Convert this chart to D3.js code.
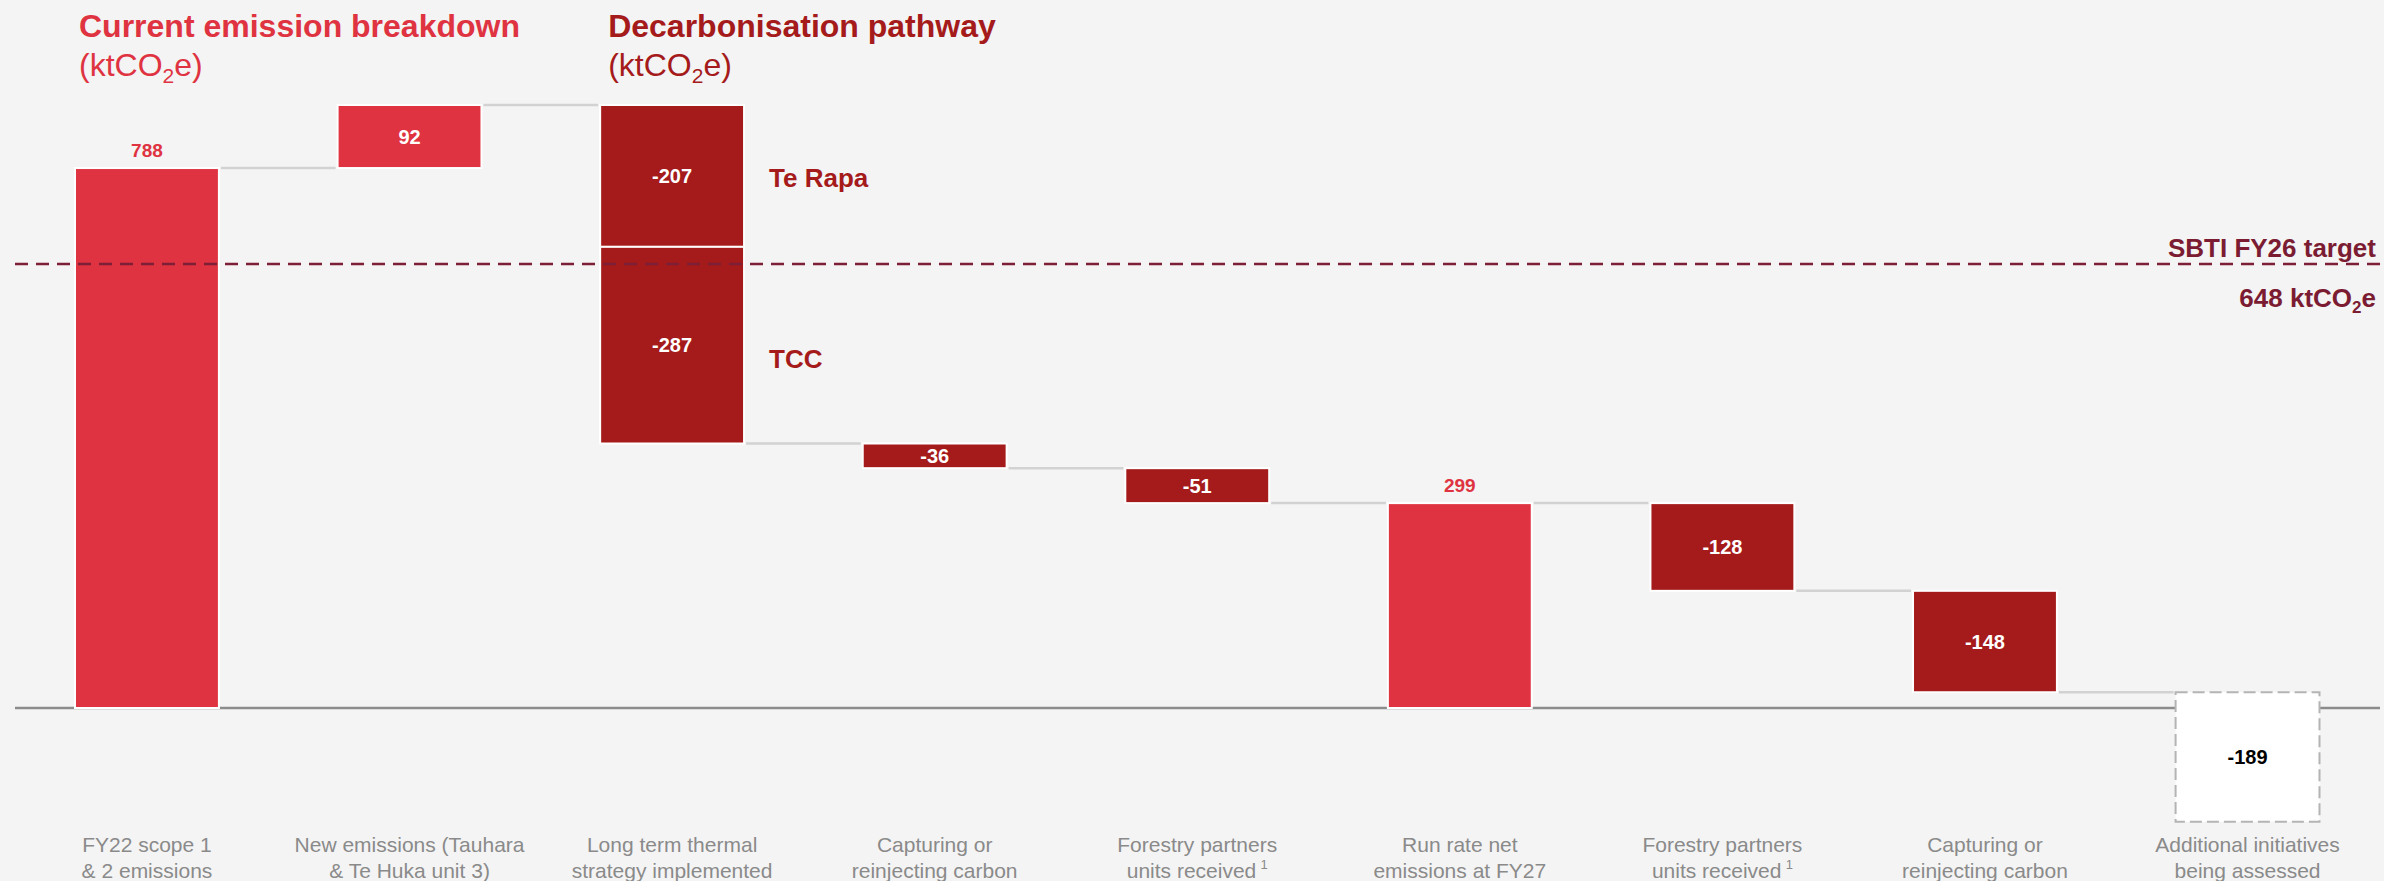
<!DOCTYPE html>
<html>
<head>
<meta charset="utf-8">
<script src="https://cdn.jsdelivr.net/npm/d3@7"></script>
<style>
  html, body { margin: 0; padding: 0; background: #f4f4f4; }
  svg { display: block; font-family: "Liberation Sans", Arial, sans-serif; }
</style>
</head>
<body>
<svg id="chart" width="2384" height="881"></svg>
<script>
// Waterfall steps (one column each)
const stepLabels = [
  ["FY22 scope 1", "& 2 emissions"],
  ["New emissions (Tauhara", "& Te Huka unit 3)"],
  ["Long term thermal", "strategy implemented"],
  ["Capturing or", "reinjecting carbon"],
  ["Forestry partners", "units received"],
  ["Run rate net", "emissions at FY27"],
  ["Forestry partners", "units received"],
  ["Capturing or", "reinjecting carbon"],
  ["Additional initiatives", "being assessed"]
];
const stepFootnotes = ["", "", "", "", "1", "", "1", "", ""];

// Segments (the thermal strategy column is split into two stacked pieces)
const segmentStep   = [0, 1, 2, 2, 3, 4, 5, 6, 7, 8];
const segmentValues = [788, 92, -207, -287, -36, -51, 299, -128, -148, -189];
const segmentKinds  = ["total", "increase", "decrease", "decrease", "decrease",
                       "decrease", "total", "decrease", "decrease", "pending"];
const segmentNames  = ["", "", "Te Rapa", "TCC", "", "", "", "", "", ""];

const targetValue = 648;
const targetLabel = "SBTI FY26 target";

const colors = {
  total: "#df3341",
  increase: "#df3341",
  decrease: "#a51a1a",
  pending: "#ffffff",
  target: "#7b1c33",
  connector: "#d2d2d2",
  axis: "#8c8c8c",
  category: "#8a8a8a"
};

const svg = d3.select("#chart");

// Scales
const x = d3.scaleBand()
  .domain(d3.range(stepLabels.length))
  .range([22.5, 2372])
  .paddingInner(0.452)
  .paddingOuter(0.2);

const y = d3.scaleLinear()
  .domain([0, 880])
  .range([708, 105]);

// Running totals for each segment
let running = 0;
const segments = segmentValues.map((v, i) => {
  let start, end;
  if (segmentKinds[i] === "total") { start = 0; end = v; }
  else { start = running; end = running + v; }
  running = end;
  return {
    i, step: segmentStep[i], value: v, kind: segmentKinds[i], name: segmentNames[i],
    start, end, lo: Math.min(start, end), hi: Math.max(start, end)
  };
});

// Connectors between consecutive columns at the running level
const connectors = [];
for (let i = 0; i < segments.length - 1; i++) {
  const a = segments[i], b = segments[i + 1];
  if (a.step === b.step) continue;
  connectors.push({ from: a.step, to: b.step, level: a.end });
}
svg.append("g")
  .selectAll("line")
  .data(connectors)
  .join("line")
  .attr("x1", d => x(d.from) + x.bandwidth() + 2)
  .attr("x2", d => x(d.to) - 2)
  .attr("y1", d => y(d.level))
  .attr("y2", d => y(d.level))
  .attr("stroke", colors.connector)
  .attr("stroke-width", 2.5);

// Zero baseline
svg.append("line")
  .attr("x1", 15).attr("x2", 2380)
  .attr("y1", y(0)).attr("y2", y(0))
  .attr("stroke", colors.axis)
  .attr("stroke-width", 2.5);

// Bars
const solid = segments.filter(d => d.kind !== "pending");
svg.append("g")
  .selectAll("rect")
  .data(solid)
  .join("rect")
  .attr("x", d => x(d.step))
  .attr("width", x.bandwidth())
  .attr("y", d => y(d.hi))
  .attr("height", d => y(d.lo) - y(d.hi))
  .attr("fill", d => colors[d.kind])
  .attr("stroke", "#ffffff")
  .attr("stroke-width", 2);

// Pending (dashed outline) bar
const pending = segments.filter(d => d.kind === "pending");
svg.append("g")
  .selectAll("rect")
  .data(pending)
  .join("rect")
  .attr("x", d => x(d.step))
  .attr("width", x.bandwidth())
  .attr("y", d => y(d.hi))
  .attr("height", d => y(d.lo) - y(d.hi))
  .attr("fill", colors.pending)
  .attr("stroke", "#b4b4b4")
  .attr("stroke-width", 2)
  .attr("stroke-dasharray", "12,5");

// Target line
svg.append("line")
  .attr("x1", 15).attr("x2", 2380)
  .attr("y1", y(targetValue)).attr("y2", y(targetValue))
  .attr("stroke", "#7d1f36")
  .attr("stroke-width", 2.5)
  .attr("stroke-dasharray", "13,8");

// Value labels
const labels = svg.append("g")
  .attr("font-weight", "bold")
  .attr("font-size", 20)
  .attr("text-anchor", "middle");

labels.selectAll("text.inside")
  .data(segments.filter(d => d.kind !== "total"))
  .join("text")
  .attr("class", "inside")
  .attr("x", d => x(d.step) + x.bandwidth() / 2)
  .attr("y", d => (y(d.lo) + y(d.hi)) / 2 + 7)
  .attr("fill", d => d.kind === "pending" ? "#000000" : "#ffffff")
  .text(d => String(d.value));

labels.selectAll("text.above")
  .data(segments.filter(d => d.kind === "total"))
  .join("text")
  .attr("class", "above")
  .attr("x", d => x(d.step) + x.bandwidth() / 2)
  .attr("y", d => y(d.hi) - 11)
  .attr("fill", colors.total)
  .attr("font-size", 19)
  .text(d => String(d.value));

// Segment names beside the split column
const nameOffsets = { "Te Rapa": 11, "TCC": 23 };
svg.append("g")
  .selectAll("text")
  .data(segments.filter(d => d.name))
  .join("text")
  .attr("x", d => x(d.step) + x.bandwidth() + 25)
  .attr("y", d => (y(d.lo) + y(d.hi)) / 2 + nameOffsets[d.name])
  .attr("fill", colors.decrease)
  .attr("font-weight", "bold")
  .attr("font-size", 26)
  .text(d => d.name);

// Category labels
const cat = svg.append("g")
  .attr("fill", colors.category)
  .attr("font-size", 21)
  .attr("text-anchor", "middle");

stepLabels.forEach((lines, i) => {
  const cx = x(i) + x.bandwidth() / 2;
  lines.forEach((line, j) => {
    const t = cat.append("text")
      .attr("x", cx)
      .attr("y", 852 + j * 25.5);
    t.append("tspan").text(line);
    if (j === lines.length - 1 && stepFootnotes[i]) {
      t.append("tspan").text("\u2009");
      t.append("tspan")
        .attr("font-size", 13)
        .attr("dy", -9)
        .text(stepFootnotes[i]);
    }
  });
});

// Section titles with unit sub-headings
function title(xPos, text, color) {
  svg.append("text")
    .attr("x", xPos).attr("y", 37)
    .attr("fill", color)
    .attr("font-weight", "bold")
    .attr("font-size", 32)
    .text(text);
  const u = svg.append("text")
    .attr("x", xPos).attr("y", 76)
    .attr("fill", color)
    .attr("font-size", 32);
  u.append("tspan").text("(ktCO");
  u.append("tspan").attr("font-size", 21).attr("dy", 7).text("2");
  u.append("tspan").attr("dy", -7).text("e)");
}
title(x(0) + 4, "Current emission breakdown", colors.total);
title(x(2) + 8, "Decarbonisation pathway", colors.decrease);

// Target annotation
svg.append("text")
  .attr("x", 2376).attr("y", y(targetValue) - 7)
  .attr("text-anchor", "end")
  .attr("fill", colors.target)
  .attr("font-weight", "bold")
  .attr("font-size", 26)
  .text(targetLabel);

const tv = svg.append("text")
  .attr("x", 2376).attr("y", y(targetValue) + 43)
  .attr("text-anchor", "end")
  .attr("fill", colors.target)
  .attr("font-weight", "bold")
  .attr("font-size", 26);
tv.append("tspan").text(targetValue + " ktCO");
tv.append("tspan").attr("font-size", 17).attr("dy", 6).text("2");
tv.append("tspan").attr("dy", -6).text("e");
</script>
</body>
</html>
